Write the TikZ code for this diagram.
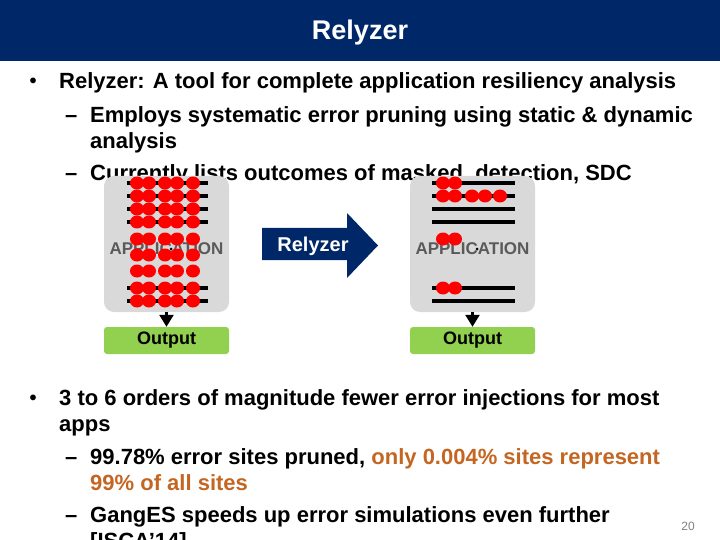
\documentclass[tikz,border=0pt]{standalone}
\usepackage{fontspec}
\setmainfont{Liberation Sans}
\usetikzlibrary{arrows.meta}
\definecolor{navy}{RGB}{0,40,104}
\definecolor{boxgray}{RGB}{217,217,217}
\definecolor{outgreen}{RGB}{146,208,80}
\definecolor{orng}{RGB}{196,102,34}
\definecolor{appgray}{RGB}{90,90,90}
\begin{document}
\begin{tikzpicture}[x=1pt,y=-1pt,
  body/.style={anchor=base west, inner sep=0pt, font=\bfseries\fontsize{22}{26}\selectfont},
  bul/.style={anchor=base west, inner sep=0pt, font=\bfseries\fontsize{20}{22}\selectfont},
  appbox/.style={fill=boxgray, rounded corners=10pt, minimum width=125pt, minimum height=136pt, inner sep=0pt},
  outbox/.style={fill=outgreen, rounded corners=3pt, minimum width=125pt, minimum height=27pt, inner sep=0pt, font=\bfseries\fontsize{18}{20}\selectfont},
  apptext/.style={text=appgray, inner sep=0pt, font=\bfseries\fontsize{17}{19}\selectfont},
  codeline/.style={line width=4pt},
  errdot/.style={fill=red},
  flow/.style={line width=2.5pt, -{Triangle[width=14pt,length=12pt]}},
]
\useasboundingbox (0,0) rectangle (720,540);
\fill[navy] (0,0) rectangle (720,61);
\node[font=\bfseries\fontsize{27}{30}\selectfont, text=white] (title) at (360,32.5) {Relyzer};

% text block 1
\node[bul] (b1) at (29.5,88) {•};
\node[body] (t1) at (59,89) {Relyzer: A tool for complete application resiliency analysis};
\node[body] (d2) at (65,123) {–};
\node[body] (t2) at (90,123) {Employs systematic error pruning using static \& dynamic};
\node[body] (t2b) at (90,149) {analysis};
\node[body] (d3) at (65,181) {–};
\node[body] (t3) at (90,181) {Currently lists outcomes of masked, detection, SDC};

% left application
\node[appbox] (appL) at (166.5,244) {};
\node[apptext] (appLt) at (166.5,249) {APPLICATION};
\foreach \r in {183,196,209,222,288,301} \draw[codeline] (127,\r) -- (208,\r);
\foreach \r in {183,196,209,222,239,255,271,288,301}
  \foreach \c in {137,149,165,177,193}
    \fill[errdot] (\c,\r) ellipse (7 and 6.5);
\fill (171,249) circle (1.5);
\node[outbox] (outL) at (166.5,340.5) {Output};
\draw[flow] (appL.south) -- (outL.north);

% right application
\node[appbox] (appR) at (472.5,244) {};
\node[apptext] (appRt) at (472.5,249) {APPLICATION};
\foreach \r in {183,196,209,222,288,301} \draw[codeline] (432,\r) -- (515,\r);
\foreach \c in {443,455} {
  \fill[errdot] (\c,183) ellipse (7 and 6.5);
  \fill[errdot] (\c,239) ellipse (7 and 6.5);
  \fill[errdot] (\c,288) ellipse (7 and 6.5);
}
\foreach \c in {443,455,472,485,500} \fill[errdot] (\c,196) ellipse (7 and 6.5);
\fill (477,249) circle (1.5);
\node[outbox] (outR) at (472.5,340.5) {Output};
\draw[flow] (appR.south) -- (outR.north);

% Relyzer arrow
\fill[navy] (262,228) -- (347,228) -- (347,213) -- (378,245.5) -- (347,278) -- (347,260) -- (262,260) -- cycle;
\node[text=white, font=\bfseries\fontsize{20}{22}\selectfont] (rel) at (313,246) {Relyzer};

% text block 2
\node[bul] (b4) at (29.5,404) {•};
\node[body] (t4) at (59,405) {3 to 6 orders of magnitude fewer error injections for most};
\node[body] (t4b) at (59,431) {apps};
\node[body] (d5) at (65,464) {–};
\node[body] (t5) at (90,464) {99.78\% error sites pruned, {\color{orng}only 0.004\% sites represent}};
\node[body, text=orng] (t5b) at (90,490) {99\% of all sites};
\node[body] (d6) at (65,522) {–};
\node[body] (t6) at (90,522) {GangES speeds up error simulations even further};
\node[body] (t6b) at (90,548) {[ISCA'14]};
\node[text=gray, font=\fontsize{12}{14}\selectfont] (pg) at (688,526) {20};
\end{tikzpicture}
\end{document}
